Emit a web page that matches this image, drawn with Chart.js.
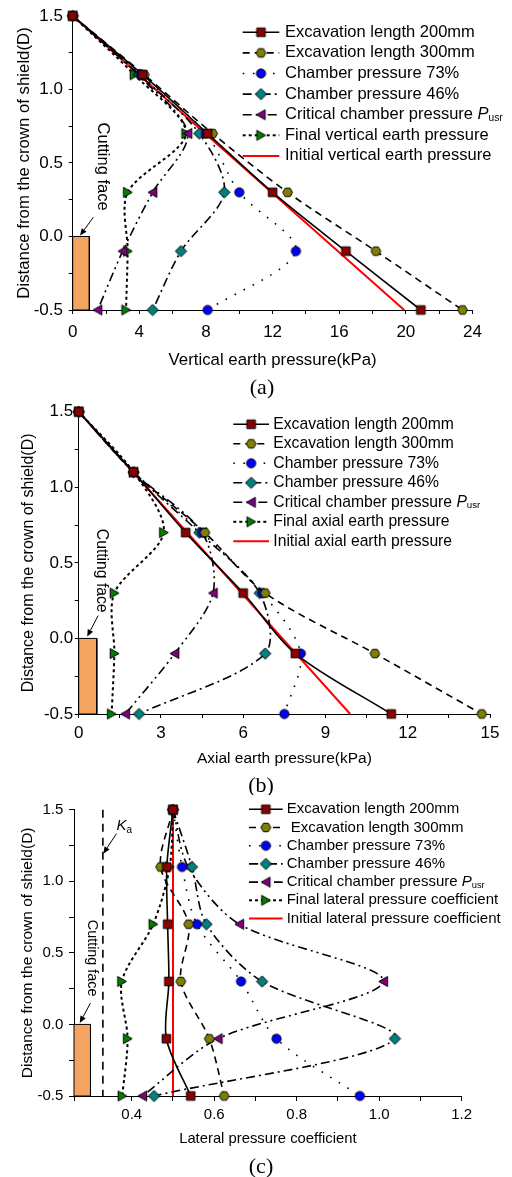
<!DOCTYPE html>
<html lang="en">
<head>
  <meta charset="UTF-8" />
  <title>Earth pressure in front of the shield</title>
  <script src="https://cdn.jsdelivr.net/npm/chart.js"></script>
  <style>
    body { margin: 0; background: #fff; width: 512px; height: 1177px; overflow: hidden; }
    .panel { position: absolute; left: 0; width: 512px; }
    canvas { display: block; }
  </style>
</head>
<body>
  <div class="panel" style="top:0"><canvas id="chartA" width="512" height="400"></canvas></div>
  <div class="panel" style="top:400px"><canvas id="chartB" width="512" height="395"></canvas></div>
  <div class="panel" style="top:795px"><canvas id="chartC" width="512" height="382"></canvas></div>

  <script>
    // depth measured from the crown of the shield, in D
    const depth = [1.5, 1.1, 0.7, 0.3, -0.1, -0.5];
    const initialDepth = [1.5, -0.5];
    const faceDepth = [0, -0.5];
    const yLabels = [-0.5, 0, 0.5, 1.0, 1.5];

    // (a) vertical earth pressure, kPa
    const vertExc200 = [0, 4.2, 8.1, 12.0, 16.4, 20.9];
    const vertExc300 = [0, 4.3, 8.4, 12.9, 18.2, 23.4];
    const vertCham73 = [0, 4.1, 8.0, 10.0, 13.4, 8.1];
    const vertCham46 = [0, 4.0, 7.6, 9.1, 6.5, 4.8];
    const vertCritical = [0, 3.9, 6.9, 4.8, 3.0, 1.5];
    const vertFinal = [0, 3.7, 6.8, 3.3, 3.3, 3.2];
    const vertInitial = [0, 19.9];
    const vertFace = [0, 1.0];
    const xLabelsA = [0, 4, 8, 12, 16, 20, 24];

    // (b) axial earth pressure, kPa
    const axExc200 = [0, 2.0, 3.9, 6.0, 7.9, 11.4];
    const axExc300 = [0, 2.0, 4.6, 6.8, 10.8, 14.7];
    const axCham73 = [0, 2.0, 4.5, 6.7, 8.1, 7.5];
    const axCham46 = [0, 2.0, 4.4, 6.6, 6.8, 2.2];
    const axCritical = [0, 2.0, 4.5, 4.9, 3.5, 1.7];
    const axFinal = [0, 2.0, 3.1, 1.3, 1.3, 1.2];
    const axInitial = [0, 9.9];
    const axFace = [0, 0.66];
    const xLabelsB = [0, 3, 6, 9, 12, 15];

    // (c) lateral pressure coefficient
    const latExc200 = [0.50, 0.485, 0.487, 0.49, 0.484, 0.543];
    const latExc300 = [0.50, 0.47, 0.538, 0.519, 0.588, 0.624];
    const latCham73 = [0.50, 0.522, 0.558, 0.665, 0.751, 0.953];
    const latCham46 = [0.50, 0.546, 0.581, 0.716, 1.038, 0.454];
    const latCritical = [0.50, 0.537, 0.661, 1.01, 0.609, 0.426];
    const latFinal = [0.50, 0.492, 0.452, 0.376, 0.39, 0.377];
    const latInitial = [0.5, 0.5];
    const latKa = [0.33, 0.33];
    const latFace = [0.26, 0.30];
    const xLabelsC = [0.4, 0.6, 0.8, 1.0, 1.2];

    const SANS = '"Liberation Sans", Arial, sans-serif';
    const SERIF = '"Liberation Serif", "Times New Roman", serif';

    // small canvases used as point styles (chart and legend)
    function marker(shape, fill) {
      const s = 15, c = s / 2;
      const cv = document.createElement('canvas');
      cv.width = s; cv.height = s;
      const g = cv.getContext('2d');
      g.beginPath();
      if (shape === 'square') {
        g.rect(c - 4.3, c - 4.3, 8.6, 8.6);
      } else if (shape === 'circle') {
        g.arc(c, c, 4.6, 0, Math.PI * 2);
      } else {
        let pts;
        if (shape === 'hexagon') {
          pts = [0, 1, 2, 3, 4, 5].map(k => [c + 4.9 * Math.cos(k * Math.PI / 3), c + 4.9 * Math.sin(k * Math.PI / 3)]);
        } else if (shape === 'diamond') {
          pts = [[c, c - 5.6], [c + 5.6, c], [c, c + 5.6], [c - 5.6, c]];
        } else if (shape === 'left') {
          pts = [[c - 4.6, c], [c + 4.2, c - 5], [c + 4.2, c + 5]];
        } else {
          pts = [[c + 4.6, c], [c - 4.2, c - 5], [c - 4.2, c + 5]];
        }
        g.moveTo(pts[0][0], pts[0][1]);
        pts.slice(1).forEach(p => g.lineTo(p[0], p[1]));
      }
      g.closePath();
      g.fillStyle = fill;
      g.fill();
      g.lineWidth = 1;
      g.strokeStyle = '#000';
      g.stroke();
      return cv;
    }

    const look = {
      exc200: { borderColor: '#000', borderWidth: 1.6, borderDash: [], pointStyle: marker('square', '#8B0000') },
      exc300: { borderColor: '#000', borderWidth: 1.6, borderDash: [7, 5], pointStyle: marker('hexagon', '#808000') },
      cham73: { borderColor: '#000', borderWidth: 1.6, borderDash: [1.6, 8.5], pointStyle: marker('circle', '#0000FF') },
      cham46: { borderColor: '#000', borderWidth: 1.6, borderDash: [9, 4, 2, 4], pointStyle: marker('diamond', '#008080') },
      critical: { borderColor: '#000', borderWidth: 1.6, borderDash: [9, 4, 2, 4, 2, 4], pointStyle: marker('left', '#800080') },
      final: { borderColor: '#000', borderWidth: 2, borderDash: [3, 3], pointStyle: marker('right', '#008000') },
      initial: { borderColor: '#FF0000', borderWidth: 2, borderDash: [], pointRadius: 0, tension: 0 }
    };

    function pairs(xs, ys) {
      return xs.map((x, i) => ({ x: x, y: ys[i] }));
    }

    function series(label, xs, ys, style) {
      return Object.assign({ label: label, data: pairs(xs, ys), inLegend: true }, style);
    }

    function faceSet(xs) {
      const [x0, x1] = xs, [top, bot] = faceDepth;
      return {
        label: 'Cutting face',
        data: [{ x: x0, y: bot }, { x: x0, y: top }, { x: x1, y: top }, { x: x1, y: bot }, { x: x0, y: bot }],
        fill: 'shape', backgroundColor: '#F4A460', borderColor: '#000', borderWidth: 1,
        pointRadius: 0, tension: 0, order: 10, inLegend: false
      };
    }

    function arrow(ctx, a, b) {
      const ang = Math.atan2(b[1] - a[1], b[0] - a[0]), head = 7, half = 3;
      const bx = b[0] - head * Math.cos(ang), by = b[1] - head * Math.sin(ang);
      ctx.lineWidth = 1;
      ctx.setLineDash([]);
      ctx.beginPath();
      ctx.moveTo(a[0], a[1]);
      ctx.lineTo(bx, by);
      ctx.stroke();
      ctx.beginPath();
      ctx.moveTo(b[0], b[1]);
      ctx.lineTo(bx - half * Math.sin(ang), by + half * Math.cos(ang));
      ctx.lineTo(bx + half * Math.sin(ang), by - half * Math.cos(ang));
      ctx.closePath();
      ctx.fill();
    }

    // legend, captions and the little labels drawn on top of each panel
    function notes(p) {
      return {
        id: 'notes',
        afterDraw(chart) {
          const ctx = chart.ctx, sx = chart.scales.x, sy = chart.scales.y;
          const px = pt => [sx.getPixelForValue(pt.x), sy.getPixelForValue(pt.y)];
          const lg = p.legend;
          ctx.save();
          ctx.fillStyle = '#000';
          ctx.strokeStyle = '#000';
          ctx.textBaseline = 'middle';

          let y = lg.y;
          chart.data.datasets.filter(ds => ds.inLegend).forEach(ds => {
            ctx.save();
            ctx.strokeStyle = ds.borderColor;
            ctx.lineWidth = ds.borderWidth;
            ctx.setLineDash(ds.borderDash || []);
            ctx.beginPath();
            ctx.moveTo(lg.x0, y);
            ctx.lineTo(lg.x1, y);
            ctx.stroke();
            ctx.restore();
            if (ds.pointStyle) {
              const m = ds.pointStyle, mid = (lg.x0 + lg.x1) / 2;
              ctx.drawImage(m, mid - m.width / 2, y - m.height / 2);
            }
            ctx.font = lg.size + 'px ' + SANS;
            ctx.textAlign = 'left';
            if (ds.label.endsWith('Pusr')) {
              const base = ds.label.slice(0, -4);
              ctx.fillText(base, lg.tx, y);
              let w = ctx.measureText(base).width;
              ctx.font = 'italic ' + lg.size + 'px ' + SANS;
              ctx.fillText('P', lg.tx + w, y);
              w += ctx.measureText('P').width;
              ctx.font = (lg.size * 0.62) + 'px ' + SANS;
              ctx.fillText('usr', lg.tx + w, y + lg.size * 0.22);
            } else {
              ctx.fillText(ds.label, lg.tx, y);
            }
            y += lg.step;
          });

          // "Cutting face" label with arrow
          const f = p.face, c = px(f.text);
          ctx.save();
          ctx.translate(c[0], c[1]);
          ctx.rotate(Math.PI / 2);
          ctx.font = f.size + 'px ' + SANS;
          ctx.textAlign = 'center';
          ctx.fillText('Cutting face', 0, 0);
          ctx.restore();
          arrow(ctx, px(f.from), px(f.to));

          if (p.ka) {
            const k = px(p.ka.text);
            ctx.textAlign = 'left';
            ctx.font = 'italic 15px ' + SANS;
            ctx.fillText('K', k[0], k[1]);
            const w = ctx.measureText('K').width;
            ctx.font = '10px ' + SANS;
            ctx.fillText('a', k[0] + w, k[1] + 4);
            arrow(ctx, px(p.ka.from), px(p.ka.to));
          }

          ctx.font = p.caption.size + 'px ' + SERIF;
          ctx.textAlign = 'center';
          ctx.fillText(p.caption.text, p.caption.x, p.caption.y);
          ctx.restore();
        }
      };
    }

    function near(list, v) {
      return list.some(t => Math.abs(t - v) < 1e-6);
    }

    function buildPanel(p) {
      const cv = document.getElementById(p.id);
      const W = cv.width, H = cv.height, a = p.area;
      const tickFont = { family: SANS, size: p.tickSize, lineHeight: 1.2 };
      const grid = { drawOnChartArea: false, drawTicks: true, tickLength: p.tickLen, color: '#000', lineWidth: 1 };
      const border = { display: true, color: '#000', width: 1 };
      return new Chart(cv, {
        type: 'scatter',
        data: { datasets: p.datasets },
        options: {
          responsive: false,
          animation: false,
          events: [],
          layout: { padding: { left: 0, top: a.top, right: W - a.right, bottom: 0 } },
          elements: {
            line: { tension: 0.3, fill: false },
            point: { radius: 5, hoverRadius: 5 }
          },
          datasets: { scatter: { showLine: true, clip: false } },
          plugins: { legend: { display: false }, tooltip: { enabled: false } },
          scales: {
            x: {
              type: 'linear', min: p.x.min, max: p.x.max,
              afterFit: s => { s.height = H - a.bottom; },
              grid: grid, border: border,
              ticks: {
                stepSize: p.x.step, autoSkip: false, maxRotation: 0, color: '#000',
                font: tickFont, padding: p.x.tickPad,
                callback: v => near(p.x.labels, v) ? p.x.fmt(v) : ''
              },
              title: {
                display: true, text: p.x.title, color: '#000',
                font: { family: SANS, size: p.x.titleSize, lineHeight: 1.2 },
                padding: { top: 0, bottom: p.x.titlePad }
              }
            },
            y: {
              type: 'linear', min: -0.5, max: 1.5,
              afterFit: s => { s.width = a.left; },
              grid: grid, border: border,
              ticks: {
                stepSize: 0.25, autoSkip: false, color: '#000',
                font: tickFont, padding: p.y.tickPad,
                callback: v => near(yLabels, v) ? v.toFixed(1) : ''
              },
              title: {
                display: true, text: 'Distance from the crown of shield(D)', color: '#000',
                font: { family: SANS, size: p.y.titleSize, lineHeight: 1.2 },
                padding: { top: p.y.titlePad, bottom: 0 }
              }
            }
          }
        },
        plugins: [notes(p)]
      });
    }

    // (a) Vertical earth pressure
    buildPanel({
      id: 'chartA',
      area: { left: 72.7, right: 472.5, top: 15, bottom: 310 },
      tickSize: 17, tickLen: 4,
      x: { min: 0, max: 24, step: 2, labels: xLabelsA, fmt: v => String(v), tickPad: 7.8,
           title: 'Vertical earth pressure(kPa)', titleSize: 16.8, titlePad: 30 },
      y: { tickPad: 5.7, titleSize: 16.8, titlePad: 13.9 },
      legend: { x0: 242.7, x1: 279.3, tx: 285, y: 32.3, step: 20.6, size: 16.5 },
      face: { text: { x: 1.82, y: 0.475 }, from: { x: 1.24, y: 0.131 }, to: { x: 0.44, y: 0.006 }, size: 16.5 },
      caption: { text: '(a)', x: 262, y: 388, size: 22 },
      datasets: [
        series('Excavation length 200mm', vertExc200, depth, look.exc200),
        series('Excavation length 300mm', vertExc300, depth, look.exc300),
        series('Chamber pressure 73%', vertCham73, depth, look.cham73),
        series('Chamber pressure 46%', vertCham46, depth, look.cham46),
        series('Critical chamber pressure Pusr', vertCritical, depth, look.critical),
        series('Final vertical earth pressure', vertFinal, depth, look.final),
        series('Initial vertical earth pressure', vertInitial, initialDepth, look.initial),
        faceSet(vertFace)
      ]
    });

    // (b) Axial earth pressure
    buildPanel({
      id: 'chartB',
      area: { left: 78.7, right: 490, top: 10.7, bottom: 314 },
      tickSize: 17, tickLen: 4,
      x: { min: 0, max: 15, step: 1.5, labels: xLabelsB, fmt: v => String(v), tickPad: 5.1,
           title: 'Axial earth pressure(kPa)', titleSize: 15.5, titlePad: 26.7 },
      y: { tickPad: 1.5, titleSize: 16, titlePad: 19.4 },
      legend: { x0: 233.3, x1: 269, tx: 273.3, y: 24.3, step: 19.5, size: 15.7 },
      face: { text: { x: 0.81, y: 0.448 }, from: { x: 0.71, y: 0.151 }, to: { x: 0.31, y: 0.012 }, size: 15.7 },
      caption: { text: '(b)', x: 261, y: 386, size: 22 },
      datasets: [
        series('Excavation length 200mm', axExc200, depth, look.exc200),
        series('Excavation length 300mm', axExc300, depth, look.exc300),
        series('Chamber pressure 73%', axCham73, depth, look.cham73),
        series('Chamber pressure 46%', axCham46, depth, look.cham46),
        series('Critical chamber pressure Pusr', axCritical, depth, look.critical),
        series('Final axial earth pressure', axFinal, depth, look.final),
        series('Initial axial earth pressure', axInitial, initialDepth, look.initial),
        faceSet(axFace)
      ]
    });

    // (c) Lateral pressure coefficient
    buildPanel({
      id: 'chartC',
      area: { left: 74, right: 461.7, top: 14.3, bottom: 301 },
      tickSize: 15, tickLen: 5,
      x: { min: 0.26, max: 1.2, step: 0.1, labels: xLabelsC, fmt: v => v.toFixed(1), tickPad: 5,
           title: 'Lateral pressure coefficient', titleSize: 14.8, titlePad: 29.1 },
      y: { tickPad: 5.7, titleSize: 15.5, titlePad: 18.2 },
      legend: { x0: 249, x1: 282.7, tx: 286.7, y: 14.3, step: 18.2, size: 15 },
      face: { text: { x: 0.304, y: 0.463 }, from: { x: 0.2998, y: 0.149 }, to: { x: 0.274, y: 0.01 }, size: 14.4 },
      ka: { text: { x: 0.363, y: 1.384 }, from: { x: 0.363, y: 1.333 }, to: { x: 0.331, y: 1.193 } },
      caption: { text: '(c)', x: 261, y: 372, size: 22 },
      datasets: [
        series('Excavation length 200mm', latExc200, depth, look.exc200),
        series(' Excavation length 300mm', latExc300, depth, look.exc300),
        series('Chamber pressure 73%', latCham73, depth, look.cham73),
        series('Chamber pressure 46%', latCham46, depth, look.cham46),
        series('Critical chamber pressure Pusr', latCritical, depth, look.critical),
        series('Final lateral pressure coefficient', latFinal, depth, look.final),
        series('Initial lateral pressure coefficient', latInitial, initialDepth, look.initial),
        Object.assign(series('Ka', latKa, initialDepth,
          { borderColor: '#000', borderWidth: 1.6, borderDash: [8, 6], pointRadius: 0, tension: 0 }),
          { inLegend: false }),
        faceSet(latFace)
      ]
    });
  </script>
</body>
</html>
